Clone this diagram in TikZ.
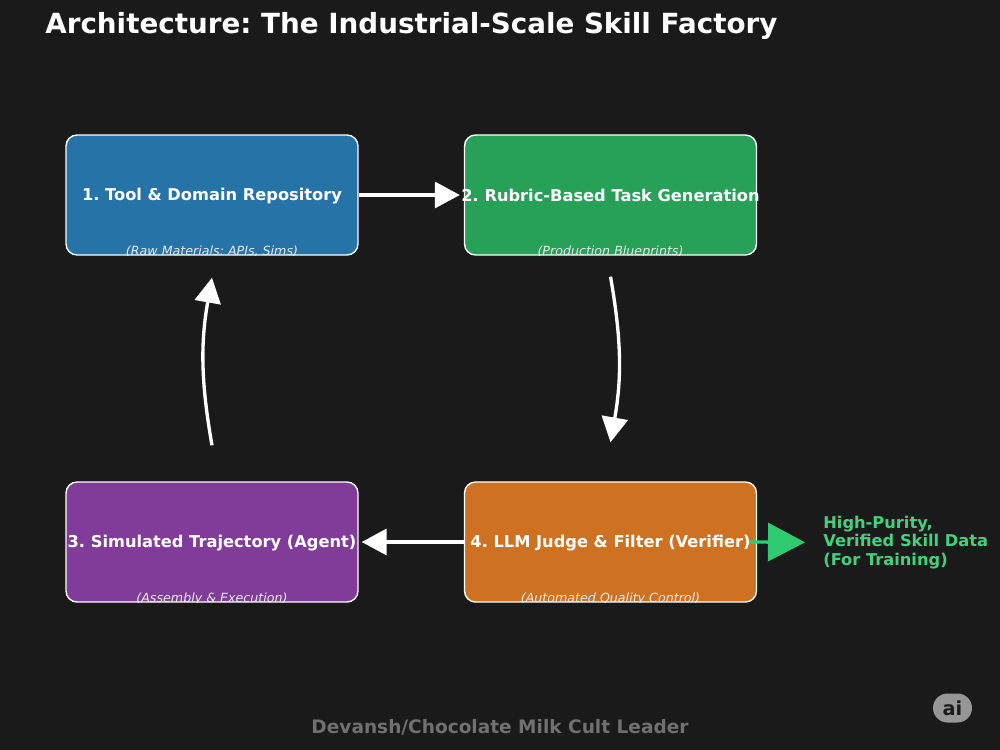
\documentclass[tikz,border=0pt]{standalone}
\usepackage{fontspec}
\usepackage{xcolor}
\setmainfont{DejaVu Sans}
\usetikzlibrary{arrows.meta, positioning, calc}
\definecolor{cbg}{RGB}{26,26,26}
\definecolor{cblue}{RGB}{38,115,168}
\definecolor{cgreen}{RGB}{39,160,88}
\definecolor{cpurple}{RGB}{129,60,154}
\definecolor{corange}{RGB}{206,113,32}
\definecolor{coutput}{RGB}{46,204,113}
\definecolor{cfooter}{RGB}{112,112,112}
\definecolor{cbadge}{RGB}{150,150,150}
\frenchspacing

\begin{document}
\begin{tikzpicture}[
    x=0.02cm, y=-0.02cm,
    stagebox/.style={draw=white, rounded corners=2.2mm, line width=0.8pt, minimum width=5.84cm, minimum height=2.4cm, inner sep=0pt},
    stagetitle/.style={font=\fontsize{9.25}{11}\selectfont\bfseries, text=white, inner sep=0pt},
    stagenote/.style={font=\fontsize{7.2}{8}\selectfont\itshape, text=white!92!black, inner sep=0pt},
    flow/.style={draw=white, line width=1.9pt, -{Triangle[length=0.5cm, width=0.52cm]}},
]
    \fill[cbg] (0,0) rectangle (1000,750);
    \useasboundingbox (0,0) rectangle (1000,750);

    % Heading
    \node[font=\fontsize{15.8}{18}\selectfont\bfseries, text=white, anchor=west, inner sep=0pt] (heading) at (45,26) {Architecture: The Industrial-Scale Skill Factory};

    % Stages
    \node[stagebox, fill=cblue] (repo) at (212,195) {};
    \node[stagetitle] (repotitle) at (212,196) {1. Tool \& Domain Repository};
    \begin{scope}
        \clip (repo.south west) rectangle (repo.north east);
        \node[stagenote] (reponote) at (212,252) {(Raw Materials: APIs, Sims)};
    \end{scope}

    \node[stagebox, fill=cgreen] (rubric) at (610.5,195) {};
    \node[stagetitle] (rubrictitle) at (610.5,195) {2. Rubric-Based Task Generation};
    \begin{scope}
        \clip (rubric.south west) rectangle (rubric.north east);
        \node[stagenote] (rubricnote) at (610.5,252) {(Production Blueprints)};
    \end{scope}

    \node[stagebox, fill=cpurple] (traj) at (212,542) {};
    \node[stagetitle] (trajtitle) at (212,543) {3. Simulated Trajectory (Agent)};
    \begin{scope}
        \clip (traj.south west) rectangle (traj.north east);
        \node[stagenote] (trajnote) at (212,599) {(Assembly \& Execution)};
    \end{scope}

    \node[stagebox, fill=corange] (judge) at (610.5,542) {};
    \node[stagetitle] (judgetitle) at (610.5,543) {4. LLM Judge \& Filter (Verifier)};
    \begin{scope}
        \clip (judge.south west) rectangle (judge.north east);
        \node[stagenote] (judgenote) at (610.5,599) {(Automated Quality Control)};
    \end{scope}

    % Output
    \node[font=\fontsize{9.25}{10.4}\selectfont\bfseries, text=coutput!90!white, align=left, anchor=west, inner sep=0pt] (output) at (823,542.5) {High-Purity,\\Verified Skill Data\\(For Training)};

    % Free ends of the curved arrows
    \coordinate (rubricout) at ($(rubric.south)+(0,21)$);
    \coordinate (judgein) at ($(judge.north)+(0,-39)$);
    \coordinate (trajout) at ($(traj.north)+(0,-36)$);
    \coordinate (repoin) at ($(repo.south)+(0,22)$);

    % Arrows
    \draw[flow, shorten >=4*0.02cm] (repo.east) -- (rubric.west);
    \draw[flow] (rubricout) to[bend left=10] (judgein);
    \draw[flow, shorten >=3*0.02cm] (judge.west) -- (traj.east);
    \draw[flow] (trajout) to[bend left=10] (repoin);
    \draw[draw=coutput, line width=1.9pt, -{Triangle[length=0.74cm, width=0.76cm]}, shorten <=-8*0.02cm, shorten >=18*0.02cm] (judge.east) -- (output.west);

    % Footer
    \node[font=\fontsize{10.55}{12}\selectfont\bfseries, text=cfooter, inner sep=0pt] (footer) at (500,727) {Devansh/Chocolate Milk Cult Leader};
    \node[fill=cbadge, rounded corners=2.9mm, minimum width=0.78cm, minimum height=0.58cm, inner sep=0pt, text=cbg, font=\fontsize{11}{12}\selectfont\bfseries] (badge) at (952.5,708) {ai};
\end{tikzpicture}
\end{document}
